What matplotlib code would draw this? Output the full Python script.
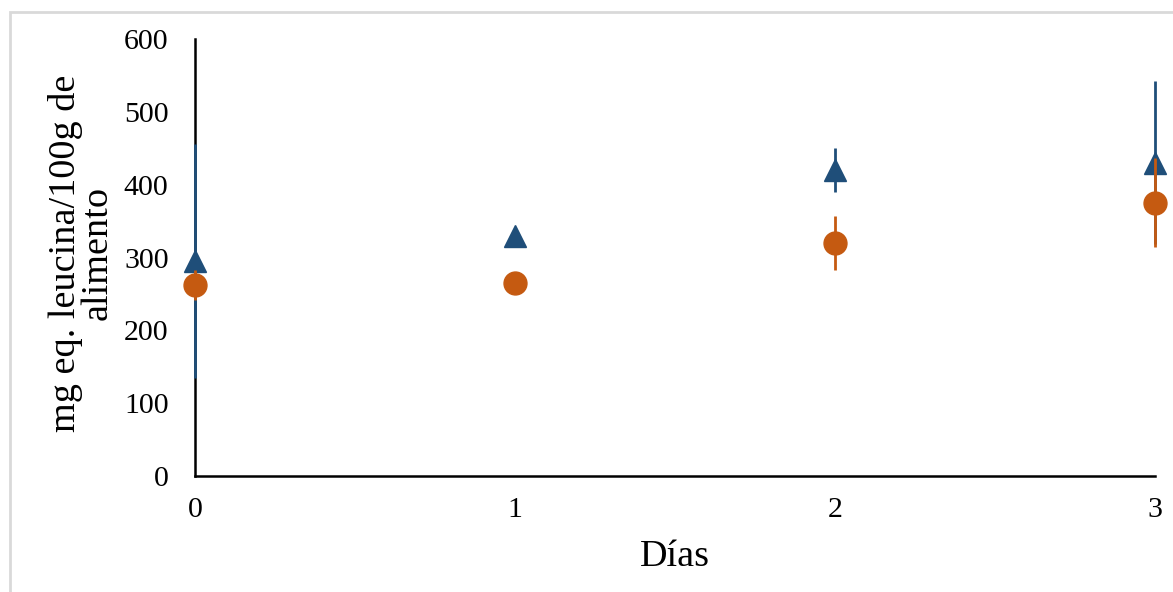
import matplotlib.pyplot as plt
from matplotlib.patches import Rectangle

# data
dias = [0, 1, 2, 3]
serie_azul = [295, 330, 420, 430]
err_azul = [161, 4, 30, 112]
serie_naranja = [262, 265, 320, 375]
err_naranja = [21, 3, 37, 61]

plt.rcParams['font.family'] = ['Liberation Serif', 'DejaVu Serif']

fig = plt.figure(figsize=(11.73, 5.92), dpi=100)
ax = fig.add_axes([195/1173, 1 - 476/592, (1155-195)/1173, (476-39)/592])

# grey chart border (cut off at right/bottom like the reference)
fig.patches.append(Rectangle((10/1173, -0.05), 1.2, 1 - 12/592 + 0.05,
                             transform=fig.transFigure, fill=False,
                             edgecolor='#d9d9d9', linewidth=2))

azul = '#1f4e79'
naranja = '#c55a11'

ax.errorbar(dias, serie_azul, yerr=err_azul, fmt='^', color=azul, ecolor=azul,
            markersize=15.5, elinewidth=2, capsize=0, clip_on=False, zorder=5)
ax.errorbar(dias, serie_naranja, yerr=err_naranja, fmt='o', color=naranja, ecolor=naranja,
            markersize=16.5, elinewidth=2, capsize=0, clip_on=False, zorder=6)

ax.set_xlim(0, 3)
ax.set_ylim(0, 600)
ax.set_xticks(dias)
ax.set_yticks(range(0, 601, 100))

for s in ['top', 'right']:
    ax.spines[s].set_visible(False)
for s in ['left', 'bottom']:
    ax.spines[s].set_linewidth(1.8)
    ax.spines[s].set_color('black')

ax.tick_params(axis='both', length=0, labelsize=21.5)
ax.tick_params(axis='y', pad=19)
ax.tick_params(axis='x', pad=15)

ax.set_xlabel('Días', fontsize=27.5, labelpad=12)
ax.set_ylabel('mg eq. leucina/100g de\nalimento', fontsize=27.5, linespacing=0.9)
ax.yaxis.set_label_coords(-0.084, 0.51)

fig.savefig('out.png', dpi=100)
